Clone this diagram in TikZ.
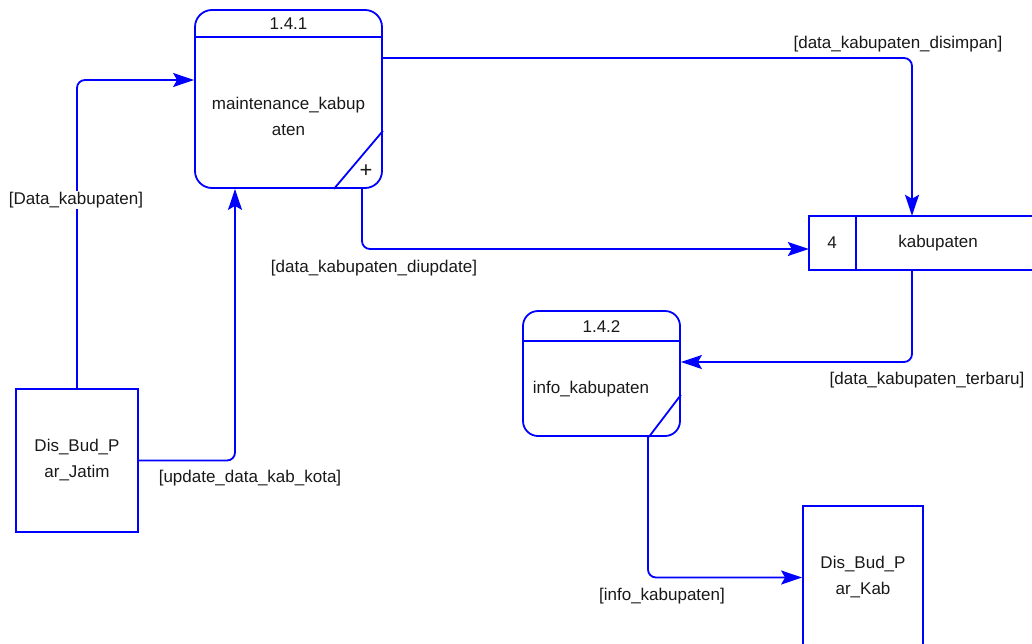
\documentclass[tikz,border=0pt]{standalone}
\usepackage{fontspec}
\setmainfont{Liberation Sans}
\usetikzlibrary{arrows.meta}

\begin{document}
\begin{tikzpicture}[
  x=1pt,y=-1pt,
  font=\fontsize{17}{26}\selectfont,
  every node/.style={text=black!90},
  proc/.style={rectangle,draw=blue,line width=1.8pt,rounded corners=17pt},
  ent/.style={rectangle,draw=blue,line width=1.8pt,minimum width=122pt,minimum height=143pt,align=center},
  flow/.style={draw=blue,line width=1.8pt,rounded corners=8pt,-{Stealth[length=21pt,width=14pt,inset=4pt]}},
  lbl/.style={fill=white,inner sep=1pt},
  sepline/.style={draw=blue,line width=1.8pt}
]
  \useasboundingbox (0,0) rectangle (1032,643);

  % processes
  \node[proc,minimum width=187pt,minimum height=178pt] (p141) at (288.5,99) {};
  \node (p141id) at (288.5,24) {1.4.1};
  \node[align=center] (p141name) at (288.5,116) {maintenance\_kabup\\aten};
  \node[font=\fontsize{22}{22}\selectfont] (p141plus) at (366,171) {+};
  \draw[sepline] ([yshift=-28pt]p141.north west) -- ([yshift=-28pt]p141.north east);
  \draw[sepline] ([yshift=58pt]p141.south east) -- ([xshift=-49pt]p141.south east);

  \node[proc,minimum width=157pt,minimum height=125pt,rounded corners=15pt] (p142) at (601.5,373.5) {};
  \node (p142id) at (601.5,327) {1.4.2};
  \node (p142name) at (591,389) {info\_kabupaten};
  \draw[sepline] ([yshift=-31pt]p142.north west) -- ([yshift=-31pt]p142.north east);
  \draw[sepline] ([yshift=42pt]p142.south east) -- ([xshift=-32pt]p142.south east);

  % external entities
  \node[ent] (jatim) at (77,460.5) {Dis\_Bud\_P\\ar\_Jatim};
  \node[ent,minimum width=120pt] (kab) at (863,577.5) {Dis\_Bud\_P\\ar\_Kab};

  % data store
  \node[minimum width=223pt,minimum height=54pt] (store) at (920.5,243) {};
  \node (storeid) at (832,243) {4};
  \node (storename) at (938,243) {kabupaten};
  \draw[sepline] (store.north east) -- (store.north west) -- (store.south west) -- (store.south east);
  \draw[sepline] ([xshift=47pt]store.north west) -- ([xshift=47pt]store.south west);

  % flows
  \draw[flow] (jatim.north) |- ([yshift=19pt]p141.west);
  \draw[flow] (jatim.east) -| ([xshift=-53.5pt]p141.south);
  \draw[flow] ([yshift=41pt]p141.east) -| ([xshift=-8.5pt]store.north);
  \draw[flow] ([xshift=73.5pt]p141.south) |- ([yshift=-6pt]store.west);
  \draw[flow] ([xshift=-8.5pt]store.south) |- ([yshift=11.5pt]p142.east);
  \draw[flow] ([xshift=46.5pt]p142.south) |- (kab.west);

  \node[lbl] (l1) at (76,200) {[Data\_kabupaten]};
  \node[lbl] (l2) at (250,478) {[update\_data\_kab\_kota]};
  \node[lbl] (l3) at (898,44) {[data\_kabupaten\_disimpan]};
  \node[lbl] (l4) at (374,268) {[data\_kabupaten\_diupdate]};
  \node[lbl] (l5) at (927,380) {[data\_kabupaten\_terbaru]};
  \node[lbl] (l6) at (662,596) {[info\_kabupaten]};
\end{tikzpicture}
\end{document}
